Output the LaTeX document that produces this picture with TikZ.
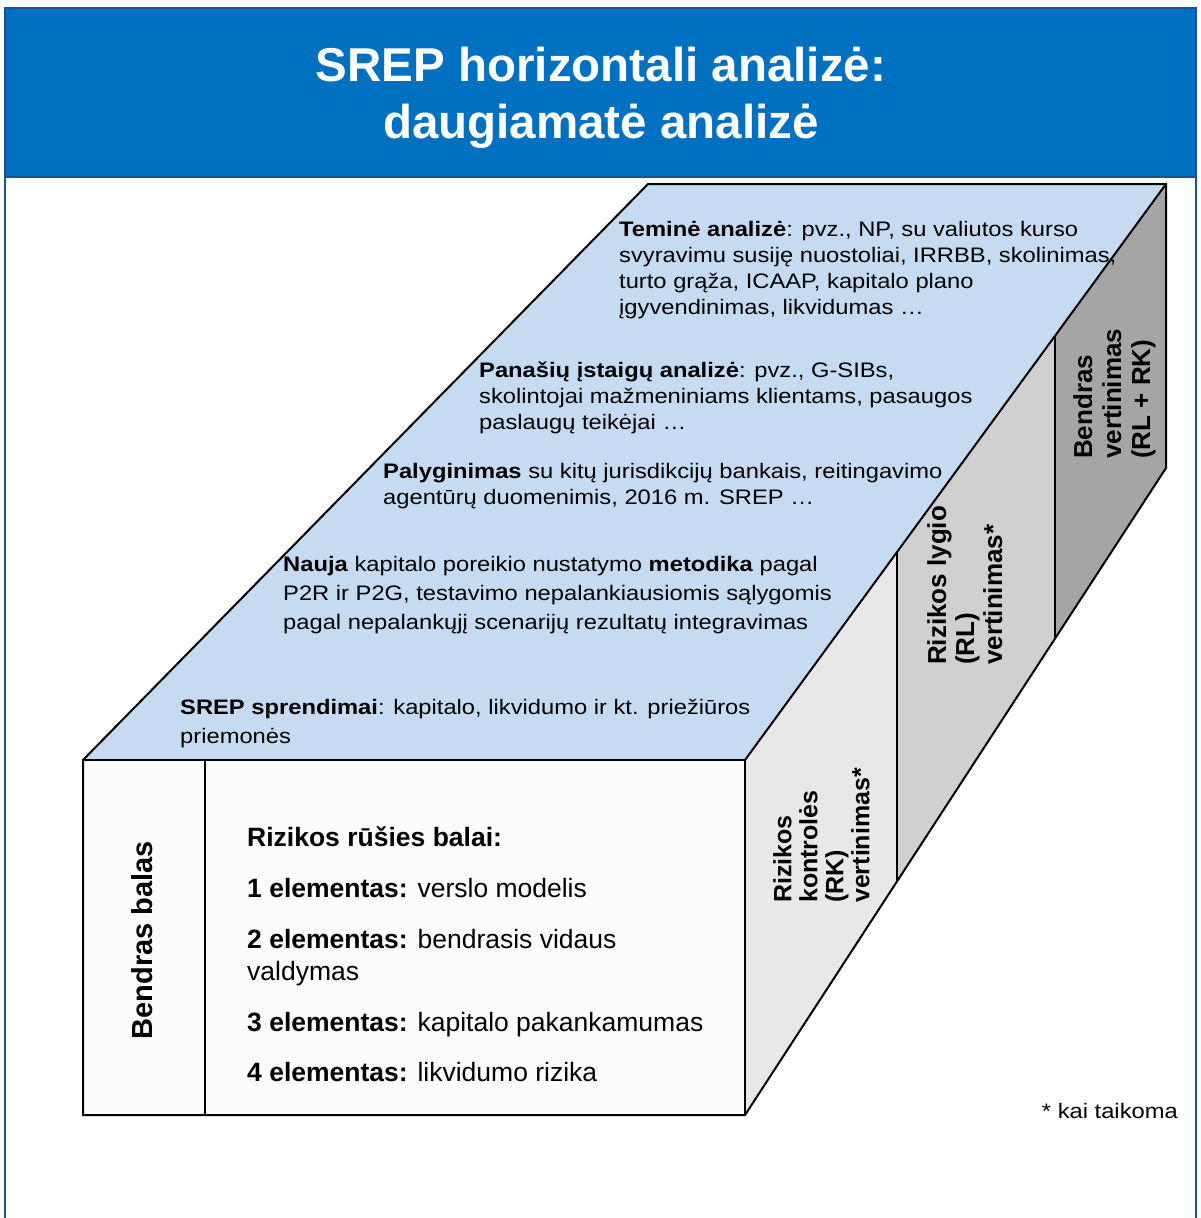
\documentclass[tikz,border=0pt]{standalone}
\usepackage{fontspec}
\setmainfont{Liberation Sans}
\newfontfamily\widefont[FakeStretch=1.13]{Liberation Sans}
\definecolor{titleblue}{HTML}{0070C0}
\definecolor{frameblue}{HTML}{1F4E9A}
\definecolor{topface}{HTML}{C6DBF1}
\definecolor{rkface}{HTML}{E8E8E8}
\definecolor{rlface}{HTML}{D0D0D0}
\definecolor{bvface}{HTML}{A5A5A5}
\definecolor{frontface}{HTML}{FCFCFC}
\tikzset{
  edge/.style={draw=black, line width=2pt, line join=miter},
  toptxt/.style={anchor=north west, inner sep=0pt, align=left, font=\widefont\fontsize{21}{26}\selectfont},
  fronttxt/.style={anchor=north west, inner sep=0pt, align=left, font=\fontsize{26.5}{32}\selectfont},
  vlab/.style={rotate=90, anchor=north west, inner sep=0pt, align=left},
}
\begin{document}
\begin{tikzpicture}[x=1pt,y=-1pt]
\useasboundingbox (0,0) rectangle (1200,1218);
% frame and title band
\fill[white] (0,0) rectangle (1200,1218);
\fill[titleblue] (5,8) rectangle (1196,177);
\draw[frameblue, line width=2pt] (5,1240) -- (5,8) -- (1196,8) -- (1196,1240);
\draw[frameblue, line width=2pt] (5,177) -- (1196,177);
\node[anchor=north, inner sep=0pt, align=center, text=white,
      font=\bfseries\fontsize{47.5}{57}\selectfont] (title) at (601,47)
      {SREP horizontali analizė:\\daugiamatė analizė};
% box geometry
\coordinate (FL) at (83,760);
\coordinate (FR) at (745,760);
\coordinate (FBL) at (83,1115);
\coordinate (FBR) at (745,1115);
\coordinate (FD) at (205,760);
\coordinate (FDb) at (205,1115);
\coordinate (TL) at (648,184);
\coordinate (TR) at (1166,184);
\coordinate (S1t) at (897,552);
\coordinate (S1b) at (897,881);
\coordinate (S2t) at (1055,336);
\coordinate (S2b) at (1055,639);
\coordinate (BR) at (1166,468);
% faces
\fill[topface] (FL) -- (FR) -- (TR) -- (TL) -- cycle;
\fill[rkface] (FR) -- (S1t) -- (S1b) -- (FBR) -- cycle;
\fill[rlface] (S1t) -- (S2t) -- (S2b) -- (S1b) -- cycle;
\fill[bvface] (S2t) -- (TR) -- (BR) -- (S2b) -- cycle;
\fill[frontface] (FL) rectangle (FBR);
% edges
\draw[edge] (FL) -- (TL) -- (TR) -- (BR) -- (FBR) -- (FBL) -- cycle;
\draw[edge] (FL) -- (FR) -- (FBR);
\draw[edge] (FR) -- (TR);
\draw[edge] (FD) -- (FDb);
\draw[edge] (S1t) -- (S1b);
\draw[edge] (S2t) -- (S2b);
% top face texts
\node[toptxt] (tema) at (619,221) {\textbf{Teminė analizė}: pvz., NP, su valiutos kurso\\svyravimu susiję nuostoliai, IRRBB, skolinimas,\\turto grąža, ICAAP, kapitalo plano\\įgyvendinimas, likvidumas …};
\node[toptxt] (panasiu) at (479,362) {\textbf{Panašių įstaigų analizė}: pvz., G-SIBs,\\skolintojai mažmeniniams klientams, pasaugos\\paslaugų teikėjai …};
\node[toptxt] (palyg) at (383,463) {\textbf{Palyginimas} su kitų jurisdikcijų bankais, reitingavimo\\agentūrų duomenimis, 2016 m. SREP …};
\node[toptxt, font=\widefont\fontsize{21}{29}\selectfont] (nauja) at (283,556) {\textbf{Nauja} kapitalo poreikio nustatymo \textbf{metodika} pagal\\P2R ir P2G, testavimo nepalankiausiomis sąlygomis\\pagal nepalankųjį scenarijų rezultatų integravimas};
\node[toptxt, font=\widefont\fontsize{21}{29}\selectfont] (sprend) at (180,699) {\textbf{SREP sprendimai}: kapitalo, likvidumo ir kt. priežiūros\\priemonės};
% front face texts
\node[fronttxt] (balai) at (247,827) {\textbf{Rizikos rūšies balai:}};
\node[fronttxt] (el1) at (247,878) {\textbf{1 elementas:} verslo modelis};
\node[fronttxt] (el2) at (247,929) {\textbf{2 elementas:} bendrasis vidaus\\valdymas};
\node[fronttxt] (el3) at (247,1012) {\textbf{3 elementas:} kapitalo pakankamumas};
\node[fronttxt] (el4) at (247,1062) {\textbf{4 elementas:} likvidumo rizika};
% vertical labels
\node[rotate=90, inner sep=0pt, font=\bfseries\fontsize{29}{31}\selectfont] (bbalas) at (142,940) {Bendras balas};
\node[vlab, font=\bfseries\fontsize{25}{26}\selectfont] (rk) at (773,903) {Rizikos\\kontrolės\\(RK)\\vertinimas*};
\node[vlab, font=\bfseries\fontsize{26}{28}\selectfont] (rl) at (927,665) {Rizikos lygio\\(RL)\\vertinimas*};
\node[vlab, font=\bfseries\fontsize{26}{29}\selectfont] (bv) at (1073,459) {Bendras\\vertinimas\\(RL + RK)};
% footnote
\node[anchor=base east, inner sep=0pt, font=\widefont\fontsize{21}{26}\selectfont] (note) at (1178,1118) {* kai taikoma};
\end{tikzpicture}
\end{document}
